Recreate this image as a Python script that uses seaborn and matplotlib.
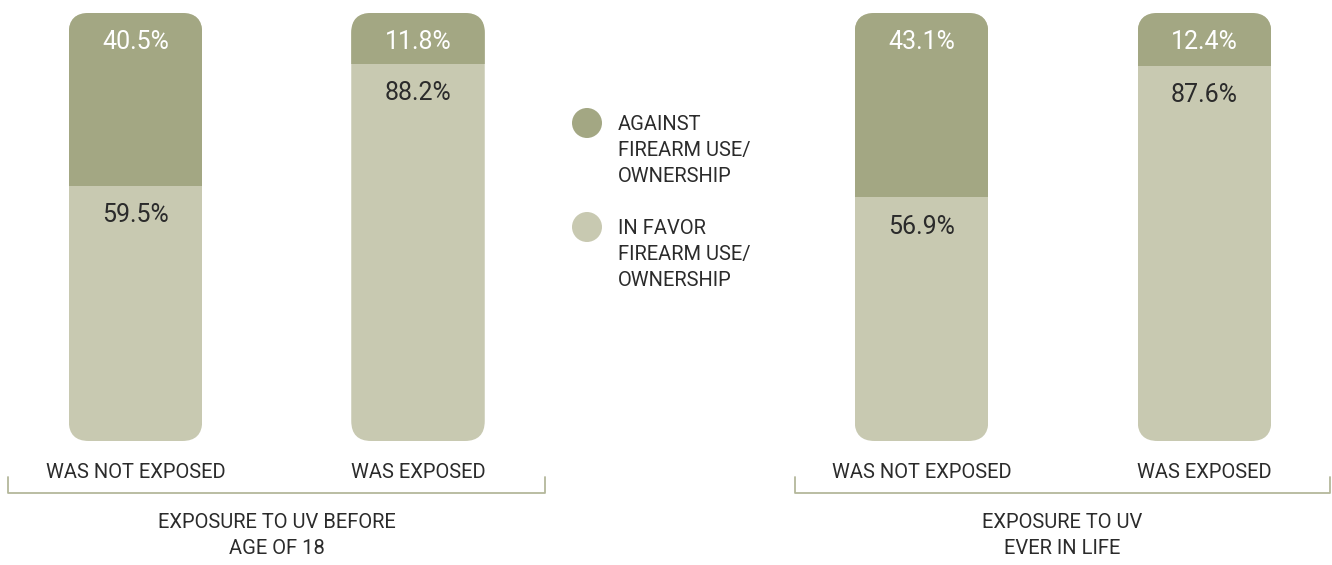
import matplotlib
matplotlib.use("Agg")
import matplotlib.pyplot as plt
import seaborn as sns
import pandas as pd
from matplotlib.patches import FancyBboxPatch

# data
groups = ["EXPOSURE TO UV BEFORE\nAGE OF 18", "EXPOSURE TO UV\nEVER IN LIFE"]
exposure = ["WAS NOT EXPOSED", "WAS EXPOSED"]
against = [[40.5, 11.8], [43.1, 12.4]]
in_favor = [[59.5, 88.2], [56.9, 87.6]]
legend_labels = ["AGAINST\nFIREARM USE/\nOWNERSHIP", "IN FAVOR\nFIREARM USE/\nOWNERSHIP"]

# colours
DARK = "#a3a783"
LIGHT = "#c8c9b1"
TEXT = "#2b2b2b"
BRACKET = "#b4b79b"

sns.set_style("white")
plt.rcParams["font.family"] = ["Roboto", "DejaVu Sans"]

# layout in pixels
W, H = 1332, 565
BAR_TOP, BAR_BOT = 13, 441
px_per_pct = (BAR_BOT - BAR_TOP) / 100
panels = [(8, 545, 135.5, 282.5), (795, 1330, 921.5, 283.0)]
BAR_W = 133.5 / 282.5
RADIUS_PX = 20

fig = plt.figure(figsize=(W / 100, H / 100), dpi=100)

overlay = fig.add_axes([0, 0, 1, 1])
overlay.set_xlim(0, W)
overlay.set_ylim(H, 0)
overlay.axis("off")

for g, (x0, x1, c0, step) in enumerate(panels):
    ax = fig.add_axes([x0 / W, 1 - BAR_BOT / H, (x1 - x0) / W, (BAR_BOT - BAR_TOP) / H])
    df = pd.DataFrame({"exposure": exposure, "against": against[g], "in_favor": in_favor[g]})
    df["total"] = df["against"] + df["in_favor"]

    sns.barplot(data=df, x="exposure", y="total", color=LIGHT, saturation=1,
                width=BAR_W, linewidth=0, ax=ax)
    sns.barplot(data=df, x="exposure", y="against", color=DARK, saturation=1,
                width=BAR_W, linewidth=0, ax=ax)

    ax.set_xlim((x0 - c0) / step, (x1 - c0) / step)
    ax.set_ylim(100, 0)
    ax.set_xlabel("")
    ax.set_ylabel("")
    ax.set_yticks([])
    ax.tick_params(axis="x", length=0, pad=16, labelsize=14.5, labelcolor=TEXT)
    sns.despine(ax=ax, left=True, bottom=True)
    ax.patch.set_alpha(0)

    # rounded corners: clip each bar stack with a rounded box
    r = RADIUS_PX / step
    aspect = step / px_per_pct
    boxes = [FancyBboxPatch((i - BAR_W / 2, 0), BAR_W, 100,
                            boxstyle=f"round,pad=0,rounding_size={r}",
                            mutation_aspect=aspect, transform=ax.transData)
             for i in range(len(exposure))]
    for p in ax.patches:
        i = int(round(p.get_x() + p.get_width() / 2))
        p.set_clip_path(boxes[i])

    for i in range(len(exposure)):
        ax.text(i, 4.0, f"{against[g][i]}%", color="white", ha="center", va="top", fontsize=18)
        ax.text(i, against[g][i] + 4.0, f"{in_favor[g][i]}%", color=TEXT,
                ha="center", va="top", fontsize=18)

    # bracket and group title
    overlay.plot([x0, x0, x1, x1], [477, 493, 493, 477], color=BRACKET, lw=1.3)
    overlay.text((x0 + x1) / 2, 513, groups[g], ha="center", va="top",
                 fontsize=14.5, color=TEXT, linespacing=1.45)

# legend
overlay.scatter([587, 587], [123, 227], s=(30 * 0.72) ** 2, c=[DARK, LIGHT], linewidths=0)
for lab, y in zip(legend_labels, [115, 219]):
    overlay.text(618, y, lab, ha="left", va="top", fontsize=14.5, color=TEXT, linespacing=1.45)

fig.savefig("out.png", dpi=100)
